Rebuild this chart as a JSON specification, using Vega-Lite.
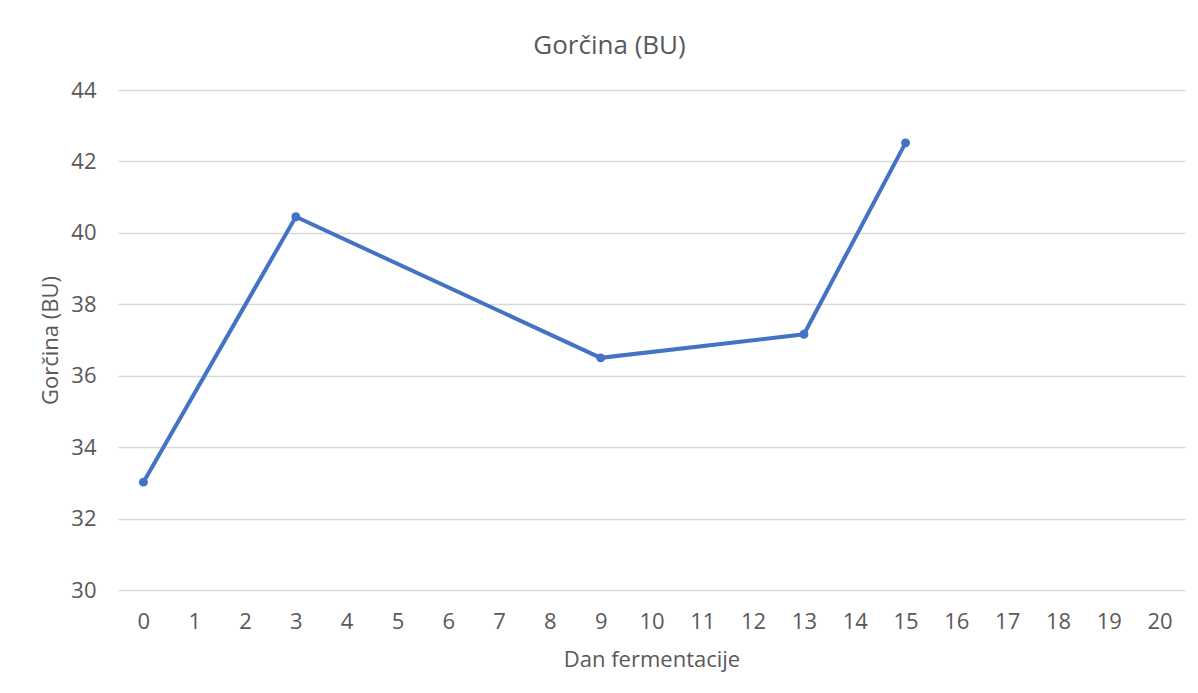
{
  "$schema": "https://vega.github.io/schema/vega-lite/v6.json",
  "autosize": {"type": "none"},
  "width": 1067,
  "height": 500,
  "padding": {"left": 118, "top": 90, "right": 13, "bottom": 103},
  "background": "white",
  "config": {
    "font": "Open Sans",
    "view": {"stroke": null}
  },
  "title": {
    "text": "Gorčina (BU)",
    "font": "Open Sans",
    "fontSize": 26,
    "fontWeight": "normal",
    "color": "#595959",
    "anchor": "middle",
    "dx": -42,
    "offset": 20
  },
  "data": {
    "values": [
      {"dan": 0, "gorcina": 33.02},
      {"dan": 3, "gorcina": 40.45},
      {"dan": 9, "gorcina": 36.5},
      {"dan": 13, "gorcina": 37.16},
      {"dan": 15, "gorcina": 42.52}
    ]
  },
  "mark": {"type": "line", "color": "#4472C4", "strokeWidth": 4, "point": {"filled": true, "size": 80, "color": "#4472C4"}},
  "encoding": {
    "x": {
      "field": "dan",
      "type": "ordinal",
      "scale": {"type": "point", "padding": 0.5, "domain": [0,1,2,3,4,5,6,7,8,9,10,11,12,13,14,15,16,17,18,19,20]},
      "axis": {
        "title": "Dan fermentacije",
        "titleFont": "Open Sans",
        "titleFontSize": 22,
        "titleFontWeight": "normal",
        "titleColor": "#595959",
        "titlePadding": 17,
        "labelFont": "Open Sans",
        "labelFontSize": 22,
        "labelColor": "#595959",
        "labelAngle": 0,
        "labelPadding": 21,
        "ticks": false,
        "domain": false,
        "grid": false
      }
    },
    "y": {
      "field": "gorcina",
      "type": "quantitative",
      "scale": {"domain": [30, 44], "nice": false, "zero": false},
      "axis": {
        "title": "Gorčina (BU)",
        "titleFont": "Open Sans",
        "titleFontSize": 22,
        "titleFontWeight": "normal",
        "titleColor": "#595959",
        "titlePadding": 8,
        "labelFont": "Open Sans",
        "labelFontSize": 22,
        "labelColor": "#595959",
        "labelPadding": 22,
        "values": [30, 32, 34, 36, 38, 40, 42, 44],
        "ticks": false,
        "domain": false,
        "grid": true,
        "gridColor": "#D9D9D9",
        "gridWidth": 1.3
      }
    }
  }
}
